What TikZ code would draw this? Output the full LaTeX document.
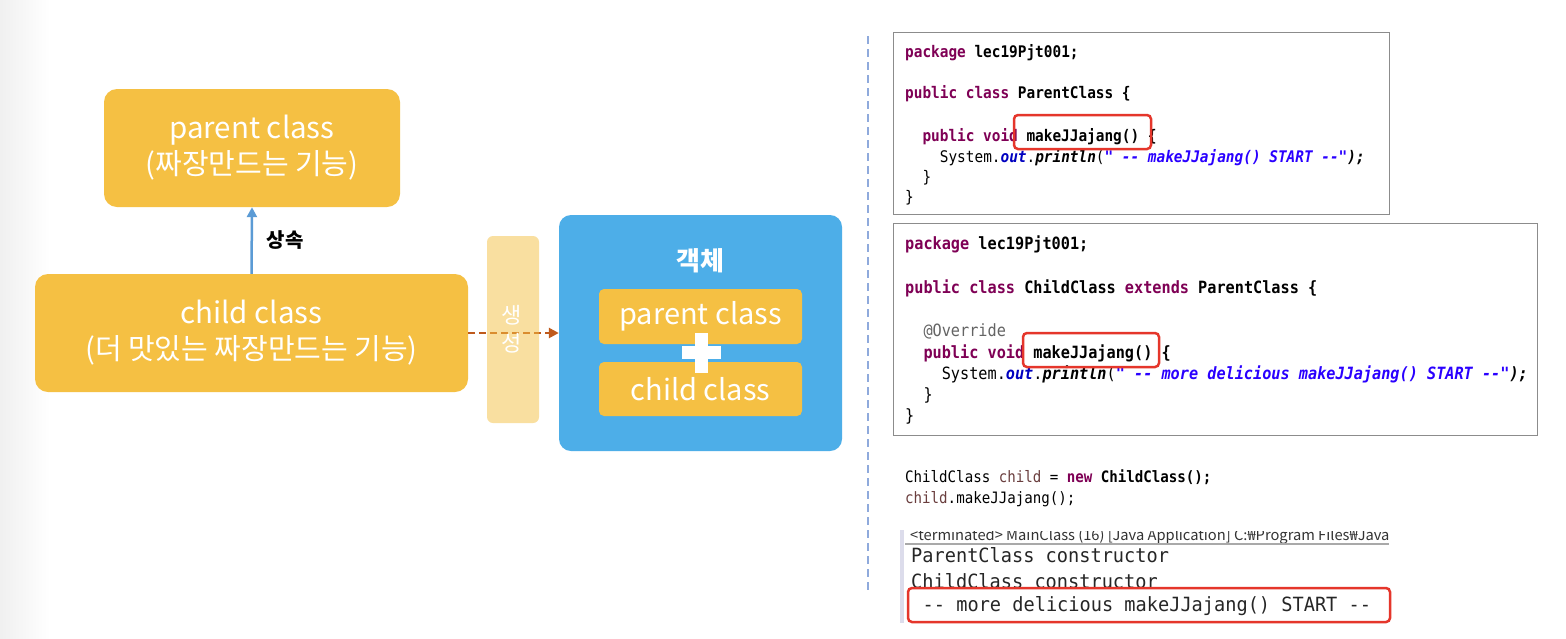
\documentclass[tikz,border=0pt]{standalone}
\usepackage{fontspec}
\setmainfont{Noto Sans CJK KR}
\newfontfamily\codefont[FakeStretch=0.9]{DejaVu Sans Mono}
\newfontfamily\consfont[FakeStretch=0.95]{DejaVu Sans Mono}
\newfontfamily\hdrfont{Noto Sans CJK KR}
\usetikzlibrary{arrows.meta}
\definecolor{boxorange}{HTML}{F5C043}
\definecolor{objblue}{HTML}{4DAEE8}
\definecolor{inhblue}{HTML}{5B9BD5}
\definecolor{genbrown}{HTML}{BF5A1C}
\definecolor{kwpurple}{HTML}{7F0055}
\definecolor{strblue}{HTML}{2A00FF}
\definecolor{fldblue}{HTML}{0000C0}
\definecolor{annogray}{HTML}{646464}
\definecolor{varbrown}{HTML}{6A3E3E}
\definecolor{hlred}{HTML}{E5362B}
\definecolor{sepblue}{HTML}{8FAADC}
\definecolor{frameg}{HTML}{8C8C8C}
\definecolor{consbar}{HTML}{DCDCEB}
\definecolor{conslinecol}{HTML}{A9A9A9}
\newcommand\kw[1]{{\bfseries\color{kwpurple}#1}}
\newcommand\dd{-\kern0pt-}
\begin{document}
\begin{tikzpicture}[x=1pt,y=-1pt,
  classbox/.style={rectangle, rounded corners=13pt, fill=boxorange, text=white, align=center, inner sep=0pt, font=\fontsize{29}{36}\selectfont},
  innerbox/.style={rectangle, rounded corners=5pt, fill=boxorange, text=white, align=center, inner sep=0pt, minimum width=203pt, font=\fontsize{29}{34}\selectfont},
  codeframe/.style={rectangle, draw=frameg, line width=1pt, inner sep=0pt},
  codeA/.style={anchor=base west, inner sep=0pt, font=\codefont\fontsize{16}{19}\selectfont},
  codeB/.style={anchor=base west, inner sep=0pt, font=\codefont\fontsize{16.9}{20}\selectfont},
  codeM/.style={anchor=base west, inner sep=0pt, font=\codefont\fontsize{15.7}{19}\selectfont},
  outline/.style={anchor=base west, inner sep=0pt, font=\consfont\fontsize{19.6}{22}\selectfont, text=black!85},
  hlbox/.style={rectangle, draw=hlred, line width=2.5pt, rounded corners=4pt, inner sep=0pt},
  inharrow/.style={draw=inhblue, line width=2.5pt, -{Triangle[length=10pt,width=10pt]}},
  genarrow/.style={draw=genbrown, line width=2.5pt, dash pattern=on 7pt off 4pt, -{Triangle[length=10pt,width=10pt]}}]
\useasboundingbox (0,0) rectangle (1566,638);
\fill[white] (0,0) rectangle (1566,638);
\shade[left color=black!6, right color=white] (0,0) rectangle (50,638);

% ---- left diagram ----
\node[classbox, minimum width=296pt, minimum height=118pt] (parent) at (252,148)
  {{\fontsize{29.5}{36}\selectfont parent class}\\(짜장만드는 기능)};
\node[classbox, minimum width=433pt, minimum height=118pt] (child) at (251.5,333)
  {{\fontsize{29.5}{36}\selectfont child class}\\(더 맛있는 짜장만드는 기능)};
\draw[inharrow] (child.north) -- (parent.south);
\node[font=\bfseries\fontsize{20}{22}\selectfont, text=black] (inhlabel) at (285,240) {상속};

\node[rectangle, rounded corners=12pt, fill=objblue, minimum width=283pt, minimum height=236pt, inner sep=0pt] (obj) at (700.5,333) {};
\draw[genarrow] (child.east) -- (obj.west);
\node[rectangle, rounded corners=6pt, fill=boxorange, fill opacity=0.5, minimum width=52pt, minimum height=187pt, inner sep=0pt] (genbar) at (513,329.5) {};
\node[text=white, align=center, font=\fontsize{22}{28}\selectfont] (genlabel) at (512,329) {생\\성};

\node[text=white, font=\bfseries\fontsize{26}{28}\selectfont] (objlabel) at (700,261) {객체};
\node[innerbox, minimum height=55pt] (innerP) at (700.5,316.5) {parent class};
\node[innerbox, minimum height=54pt] (innerC) at (700.5,389) {child class};
\fill[white] (682,346) rectangle (721,359);
\fill[white] (695,333) rectangle (708,373);

% ---- separator ----
\coordinate (sepTop) at (868,36);
\coordinate (sepBot) at (868,591);
\draw[sepblue, line width=1.3pt, dash pattern=on 8pt off 5pt] (sepTop) -- (sepBot);

% ---- code box 1 ----
\node[codeframe, minimum width=496pt, minimum height=182pt] (code1) at (1141,123) {};
\node[codeA] (c1l1) at (905,57) {\kw{package} \textbf{lec19Pjt001;}};
\node[codeA] (c1l2) at (905,98) {\kw{public} \kw{class} \textbf{ParentClass \{}};
\node[codeA] (c1l3) at (922.3,141) {\kw{public} \kw{void} \textbf{makeJJajang() \{}};
\node[codeA] (c1l4) at (939.7,162) {System.{\bfseries\itshape\color{fldblue}out}.{\bfseries\itshape println}({\bfseries\itshape\color{strblue}" \dd{} makeJJajang() START \dd"}{\bfseries\itshape );}};
\node[codeA] (c1l5) at (922.3,182) {\}};
\node[codeA] (c1l6) at (905,202) {\}};
\node[hlbox, minimum width=137pt, minimum height=34pt] (hl1) at (1082.5,132) {};

% ---- code box 2 ----
\node[codeframe, minimum width=644pt, minimum height=212pt] (code2) at (1215,329) {};
\node[codeB] (c2l1) at (905,249) {\kw{package} \textbf{lec19Pjt001;}};
\node[codeB] (c2l2) at (905,293) {\kw{public} \kw{class} \textbf{ChildClass} \kw{extends} \textbf{ParentClass \{}};
\node[codeB] (c2l3) at (923.3,336.5) {{\color{annogray}@Override}};
\node[codeB] (c2l4) at (923.3,358) {\kw{public} \kw{void} \textbf{makeJJajang() \{}};
\node[codeB] (c2l5) at (941.6,379.5) {System.{\bfseries\itshape\color{fldblue}out}.{\bfseries\itshape println}({\bfseries\itshape\color{strblue}" \dd{} more delicious makeJJajang() START \dd"}{\bfseries\itshape );}};
\node[codeB] (c2l6) at (923.3,400) {\}};
\node[codeB] (c2l7) at (905,421) {\}};
\node[hlbox, minimum width=136pt, minimum height=34pt] (hl2) at (1091,350) {};

% ---- main snippet ----
\node[codeM] (m1) at (905,482) {ChildClass {\color{varbrown}child} = \kw{new} \textbf{ChildClass();}};
\node[codeM] (m2) at (905,503) {{\color{varbrown}child}.makeJJajang();};

% ---- console ----
\fill[consbar] (900,530) rectangle (904,623);
\begin{scope}
  \clip (905,531.5) rectangle (1389,545);
  \node[anchor=base west, inner sep=0pt, font=\hdrfont\fontsize{14.7}{16}\selectfont, text=black!80] (hdr) at (910,540) {<terminated> MainClass (16) [Java Application] C:₩Program Files₩Java};
\end{scope}
\coordinate (hdrL) at (905,543.5);
\coordinate (hdrR) at (1389,543.5);
\draw[conslinecol, line width=2pt] (hdrL) -- (hdrR);
\node[outline] (o1) at (911,562) {ParentClass constructor};
\node[outline] (o2) at (911,588) {ChildClass constructor};
\node[hlbox, fill=white, minimum width=482pt, minimum height=34pt] (hl3) at (1149,605) {};
\node[outline] (o3) at (922.5,611) {\dd{} more delicious makeJJajang() START \dd};
\end{tikzpicture}
\end{document}
